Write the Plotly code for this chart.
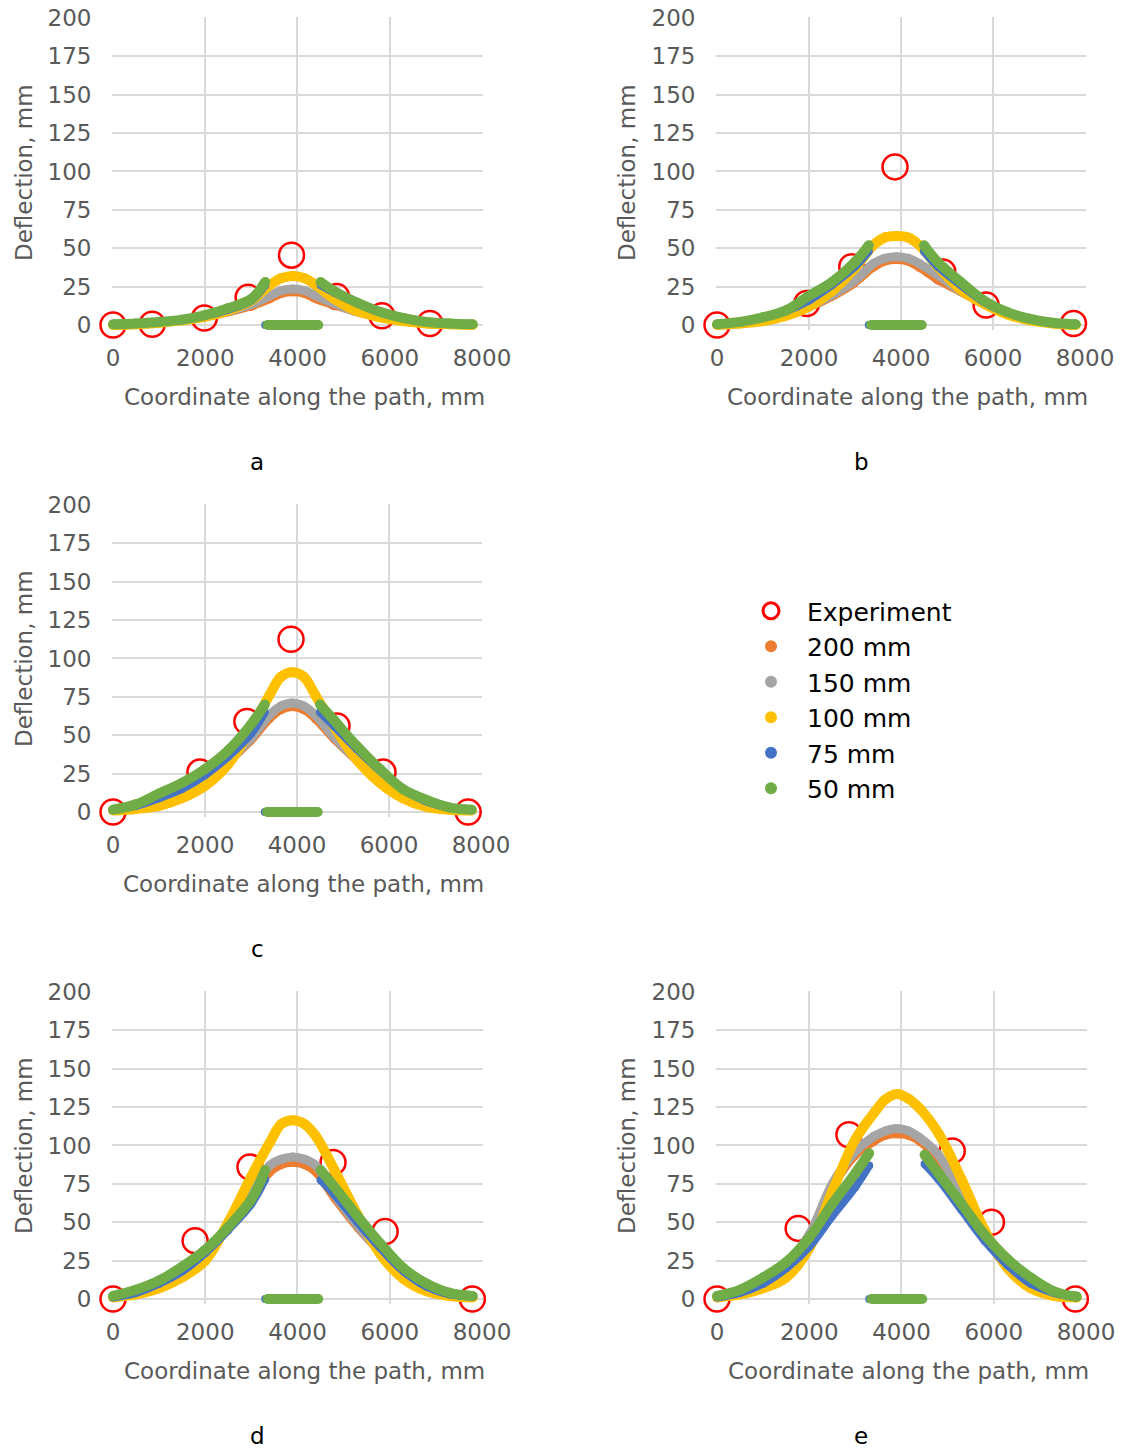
import plotly.graph_objects as go

# ---------------- data ----------------
X_FULL = [0, 500, 1000, 1500, 2000, 2500, 3000, 3400, 3650, 3900, 4150, 4400, 4800, 5300, 5800, 6300, 6800, 7300, 7800]
X_LEFT = [0, 500, 1000, 1500, 2000, 2500, 3000, 3300]
X_RIGHT = [4500, 4800, 5300, 5800, 6300, 6800, 7300, 7800]
X_ZERO_75 = [3300, 4450]
X_ZERO_50 = [3350, 4450]
Y_ZERO = [0, 0]

X_TICKS = [0, 2000, 4000, 6000, 8000]
Y_TICKS = [0, 25, 50, 75, 100, 125, 150, 175, 200]
PANEL_LABELS = ["a", "b", "c", "d", "e"]
SERIES_NAMES = ["Experiment", "200 mm", "150 mm", "100 mm", "75 mm", "50 mm"]

# panel a
A_EXP_X = [0, 850, 1980, 2930, 3870, 4850, 5830, 6870]
A_EXP_Y = [0, 0.5, 4.5, 18, 45.5, 18.5, 6, 1]
A_S200 = [0, 0.5, 1.5, 3, 5, 8, 12, 16.5, 20, 21, 20, 16.5, 12.5, 8, 5, 2.5, 1, 0.5, 0]
A_S150 = [0, 0.5, 1.5, 3, 5.5, 9, 13.5, 19, 22.5, 23.5, 22.5, 19, 14, 8.5, 5, 2.5, 1, 0.5, 0]
A_S100 = [0, 0.5, 1.5, 3, 5.5, 9.5, 16, 26, 30.5, 32, 30.5, 26, 17, 9, 5, 2.5, 1, 0.5, 0]
A_S75_L = [0.5, 1, 2, 3.5, 6, 10, 16, 26]
A_S75_R = [26, 21, 14, 8, 4.5, 2, 1, 0.5]
A_S50_L = [0.5, 1, 2, 3.5, 6.5, 11, 17, 28]
A_S50_R = [28, 22, 14.5, 8.5, 4.5, 2, 1, 0.5]

# panel b
B_EXP_X = [0, 1950, 2930, 3870, 4910, 5850, 7750]
B_EXP_Y = [0, 14, 38, 103, 34.5, 13, 1]
B_S200 = [0, 1, 3, 6, 11, 18, 27, 37, 41, 42, 41, 37, 29, 21, 13, 7, 3.5, 1.5, 0]
B_S150 = [0, 1, 3, 6.5, 12, 19.5, 29, 40, 43.5, 44.5, 43.5, 40, 32.5, 22, 14, 7.5, 3.5, 1.5, 0]
B_S100 = [0, 1, 2.5, 6, 12, 22, 37, 52, 57, 58, 57, 52, 38, 23, 14, 7, 3, 1, 0]
B_S75_L = [0.5, 2, 5, 9, 16, 26, 38, 48]
B_S75_R = [48, 38, 26, 15, 8, 4, 1.5, 0.5]
B_S50_L = [0.5, 2, 5, 9.5, 19, 28, 41, 52]
B_S50_R = [52, 41, 28, 16, 8.5, 4, 1.5, 0.5]

# panel c
C_EXP_X = [0, 1890, 2910, 3870, 4870, 5870, 7720]
C_EXP_Y = [0, 26, 59, 112.5, 56, 26, 0]
C_S200 = [1, 3, 7, 13, 21, 32, 46, 60, 66, 68, 66, 60, 47, 33, 21, 11, 5, 2, 1]
C_S150 = [1, 3, 7, 13, 22, 33, 48, 63, 69, 71, 69, 63, 49, 34, 22, 12, 5, 2, 1]
C_S100 = [1, 2, 4, 9, 17, 31, 54, 76, 88, 91, 88, 76, 56, 34, 19, 9, 3.5, 1.5, 1]
C_S75_L = [1.5, 4, 9, 15, 24, 36, 51, 65]
C_S75_R = [65, 56, 41, 27, 15, 7, 3, 1.5]
C_S50_L = [1.5, 5, 12, 19, 28, 40, 57, 70]
C_S50_R = [70, 60, 43, 28, 15, 8, 3, 1.5]

# panel d
D_EXP_X = [0, 1780, 2970, 4770, 5900, 7790]
D_EXP_Y = [0, 38, 86, 89, 44, 0]
D_S200 = [2, 5, 10, 18, 30, 46, 65, 82, 87, 88.5, 87, 82, 65, 46, 30, 16, 7, 3, 2]
D_S150 = [2, 5, 10, 18, 30, 48, 68, 87, 91, 92.5, 91, 87, 68, 48, 31, 17, 7.5, 3, 2]
D_S100 = [1, 3, 7, 14, 25, 50, 80, 102, 114, 116.5, 114, 106, 84, 55, 29, 13, 5, 2, 1]
D_S75_L = [1, 4, 10, 18, 30, 45, 62, 78]
D_S75_R = [77.5, 68, 50, 33, 18, 8, 3, 1.5]
D_S50_L = [2, 6, 12, 21, 32, 47, 65, 84]
D_S50_R = [84, 73, 54, 36, 20, 10, 4, 2]

# panel e
E_EXP_X = [0, 1760, 2860, 5100, 5950, 7770]
E_EXP_Y = [0, 46, 107, 96.5, 50, 0]
E_S200 = [2, 5, 12, 22, 40, 72, 93, 102, 106, 107, 106, 102, 90, 66, 40, 21, 8, 3, 2]
E_S150 = [2, 5, 12, 23, 42, 75, 96, 106, 109.5, 111, 109.5, 105, 94, 68, 42, 22, 9, 3, 2]
E_S100 = [1, 3, 7, 14, 33, 70, 104, 121, 130, 133.5, 130.5, 124, 108, 78, 45, 20, 7, 2, 1]
E_S75_L = [1, 4, 10, 20, 34, 54, 73, 87]
E_S75_R = [88, 78, 58, 38, 22, 10, 4, 1]
E_S50_L = [2, 6, 14, 24, 40, 62, 82, 95]
E_S50_R = [94, 82, 62, 42, 26, 14, 5, 1.5]

PANEL_DATA = [
    (A_EXP_X, A_EXP_Y, A_S200, A_S150, A_S100, A_S75_L, A_S75_R, A_S50_L, A_S50_R),
    (B_EXP_X, B_EXP_Y, B_S200, B_S150, B_S100, B_S75_L, B_S75_R, B_S50_L, B_S50_R),
    (C_EXP_X, C_EXP_Y, C_S200, C_S150, C_S100, C_S75_L, C_S75_R, C_S50_L, C_S50_R),
    (D_EXP_X, D_EXP_Y, D_S200, D_S150, D_S100, D_S75_L, D_S75_R, D_S50_L, D_S50_R),
    (E_EXP_X, E_EXP_Y, E_S200, E_S150, E_S100, E_S75_L, E_S75_R, E_S50_L, E_S50_R),
]

# ---------------- style / layout ----------------
W, H = 1121, 1450
# plot area boxes in pixels for x 0..8000 and y 0..200: (left, right, top(200), bottom(0))
BOXES = [(113, 482, 18, 325), (717, 1085, 18, 325), (113, 481, 505, 812),
         (113, 482, 992, 1299), (717, 1086, 992, 1299)]
PAD_Y_LO = 3.3   # extension below zero (lines not clipped, grid stubs act as ticks)
PAD_Y_HI = 0.4   # tiny extension so the 200 gridline is drawn
PAD_X = 12       # tiny extension so the 0 / 8000 gridlines are drawn
XTITLE_POS = [(304, 397), (907, 397), (303, 884), (304, 1371), (908, 1371)]
YTITLE_POS = [(24, 173), (627, 173), (24, 659), (24, 1146), (627, 1146)]
LABEL_POS = [(257, 462), (861, 462), (257, 949), (257, 1436), (861, 1436)]

COL_EXP = "#FF0000"
COLORS = {"200 mm": "#ED7D31", "150 mm": "#A5A5A5", "100 mm": "#FFC000",
          "75 mm": "#4472C4", "50 mm": "#70AD47"}
WIDTHS = {"200 mm": 7, "150 mm": 9, "100 mm": 10, "75 mm": 8, "50 mm": 10}
FONT = "DejaVu Sans, sans-serif"
GRID = "#D9D9D9"
TXT = "#595959"

fig = go.Figure()


def seg(xl, yl, xz, yz, xr, yr):
    return xl + [None] + xz + [None] + xr, yl + [None] + yz + [None] + yr


for i, d in enumerate(PANEL_DATA):
    ex, ey, s200, s150, s100, s75l, s75r, s50l, s50r = d
    xa = "x" if i == 0 else f"x{i+1}"
    ya = "y" if i == 0 else f"y{i+1}"
    fig.add_trace(go.Scatter(x=ex, y=ey, mode="markers", xaxis=xa, yaxis=ya,
                             marker=dict(symbol="circle-open", size=25, color=COL_EXP,
                                         line=dict(width=2.5, color=COL_EXP)),
                             showlegend=False, cliponaxis=False, name="Experiment"))
    for name, ys in (("200 mm", s200), ("150 mm", s150), ("100 mm", s100)):
        fig.add_trace(go.Scatter(x=X_FULL, y=ys, mode="lines+markers", xaxis=xa, yaxis=ya,
                                 line=dict(color=COLORS[name], width=WIDTHS[name], shape="spline", smoothing=1.0),
                                 marker=dict(color=COLORS[name], size=WIDTHS[name]),
                                 showlegend=False, cliponaxis=False, name=name))
    for name, yl, yr, xz in (("75 mm", s75l, s75r, X_ZERO_75), ("50 mm", s50l, s50r, X_ZERO_50)):
        xx, yy = seg(X_LEFT, yl, xz, Y_ZERO, X_RIGHT, yr)
        fig.add_trace(go.Scatter(x=xx, y=yy, mode="lines+markers", xaxis=xa, yaxis=ya,
                                 line=dict(color=COLORS[name], width=WIDTHS[name], shape="spline", smoothing=1.0),
                                 marker=dict(color=COLORS[name], size=WIDTHS[name]),
                                 connectgaps=False,
                                 showlegend=False, cliponaxis=False, name=name))

# legend entries
fig.add_trace(go.Scatter(x=[None], y=[None], mode="markers", name="Experiment",
                         marker=dict(symbol="circle-open", size=30, color=COL_EXP,
                                     line=dict(width=3, color=COL_EXP))))
for name in SERIES_NAMES[1:]:
    fig.add_trace(go.Scatter(x=[None], y=[None], mode="markers", name=name,
                             marker=dict(color=COLORS[name], size=12)))

layout = dict(width=W, height=H, margin=dict(l=0, r=0, t=0, b=0, autoexpand=False),
              paper_bgcolor="white", plot_bgcolor="white",
              font=dict(family=FONT, size=23, color=TXT))
annotations = []
for i, (l, r, t, b) in enumerate(BOXES):
    sx = "xaxis" if i == 0 else f"xaxis{i+1}"
    sy = "yaxis" if i == 0 else f"yaxis{i+1}"
    xa = "x" if i == 0 else f"x{i+1}"
    ya = "y" if i == 0 else f"y{i+1}"
    pxx = (r - l) / 8000.0
    pxy = (b - t) / 200.0
    left = l - PAD_X * pxx
    right = r + PAD_X * pxx
    top = t - PAD_Y_HI * pxy
    bottom = b + PAD_Y_LO * pxy
    layout[sx] = dict(domain=[left / W, right / W], anchor=ya, range=[-PAD_X, 8000 + PAD_X],
                      tickvals=X_TICKS,
                      showgrid=True, gridcolor=GRID, gridwidth=1.5, zeroline=False,
                      showline=False, ticks="", automargin=False,
                      tickfont=dict(size=23, color=TXT, family=FONT), ticklabelstandoff=12,
                      fixedrange=True)
    layout[sy] = dict(domain=[1 - bottom / H, 1 - top / H], anchor=xa, range=[-PAD_Y_LO, 200 + PAD_Y_HI],
                      tickvals=Y_TICKS,
                      showgrid=True, gridcolor=GRID, gridwidth=1.5, zeroline=False,
                      showline=False, ticks="", automargin=False,
                      tickfont=dict(size=23, color=TXT, family=FONT),
                      ticklabelstandoff=20, fixedrange=True)
    tx, ty = XTITLE_POS[i]
    annotations.append(dict(text="Coordinate along the path, mm", x=tx / W, y=1 - ty / H,
                            xref="paper", yref="paper", showarrow=False,
                            xanchor="center", yanchor="middle",
                            font=dict(size=23, color=TXT, family=FONT)))
    yx, yy = YTITLE_POS[i]
    annotations.append(dict(text="Deflection, mm", x=yx / W, y=1 - yy / H,
                            xref="paper", yref="paper", showarrow=False, textangle=-90,
                            xanchor="center", yanchor="middle",
                            font=dict(size=23, color=TXT, family=FONT)))
    lx, ly = LABEL_POS[i]
    annotations.append(dict(text=PANEL_LABELS[i], x=lx / W, y=1 - ly / H,
                            xref="paper", yref="paper", showarrow=False,
                            xanchor="center", yanchor="middle",
                            font=dict(size=23, color="black", family=FONT)))
layout["annotations"] = annotations
layout["legend"] = dict(x=735 / W, y=1 - 588 / H, xanchor="left", yanchor="top",
                        font=dict(size=25, color="black", family=FONT),
                        bgcolor="rgba(0,0,0,0)", itemwidth=62, tracegroupgap=0)
fig.update_layout(**layout)

fig.write_html("out.html", config={"displayModeBar": False},
               post_script="document.body.style.margin='0';")
